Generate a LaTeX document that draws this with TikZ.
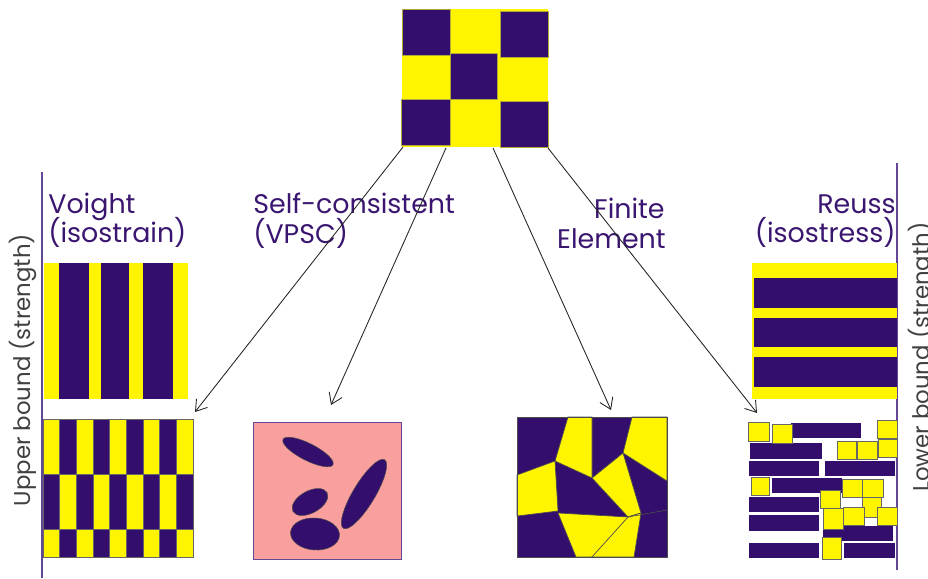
\documentclass[tikz,border=0pt]{standalone}
\usepackage{fontspec}
\setsansfont{Poppins}
\usetikzlibrary{arrows.meta}

\definecolor{phasedark}{RGB}{52,14,108}
\definecolor{phaselight}{RGB}{255,245,0}
\definecolor{matrixpink}{RGB}{249,160,158}
\definecolor{labelpurple}{RGB}{58,22,112}
\definecolor{boundline}{RGB}{100,70,150}

\tikzset{
  modeltext/.style={font=\sffamily\fontsize{15.3}{16.7}\selectfont, text=labelpurple, inner sep=0pt},
  boundtext/.style={font=\sffamily\fontsize{13}{14}\selectfont, text=black!75, inner sep=0pt},
  cellline/.style={draw=black!60, line width=0.3pt},
  grainline/.style={draw=black!70, line width=0.4pt},
  mapping/.style={-{Straight Barb[length=6pt,width=8pt]}, draw=black!85, line width=0.5pt},
}

\begin{document}
\begin{tikzpicture}[x=0.02cm, y=-0.02cm]
\useasboundingbox (0,0) rectangle (928,578);

% Drawing the two-phase checkerboard
\fill[phaselight] (402,9) rectangle (548,147);
\draw[fill=phasedark, draw=olive!70, line width=0.3pt] (402,9) rectangle (450,55);
\draw[fill=phasedark, draw=olive!70, line width=0.3pt] (500,11) rectangle (548,57);
\draw[fill=phasedark, draw=olive!70, line width=0.3pt] (450,53) rectangle (497,99);
\draw[fill=phasedark, draw=olive!70, line width=0.3pt] (401,99) rectangle (450,145);
\draw[fill=phasedark, draw=olive!70, line width=0.3pt] (500,101) rectangle (548,147);

% Marking arrow ends
\coordinate (mix1) at (403,147);
\coordinate (mix2) at (446,148);
\coordinate (mix3) at (493,148);
\coordinate (mix4) at (548,148);
\coordinate (voight) at (195,412);
\coordinate (vpsc) at (331,405);
\coordinate (fem) at (611,410);
\coordinate (reuss) at (757,413);

% Drawing the bounds
\draw[boundline, line width=0.6pt] (42,172) -- (42,578);
\draw[boundline, line width=0.6pt] (897,163) -- (897,570);
\node[boundtext, rotate=90, anchor=base] (upper) at (31,370) {Upper bound (strength)};
\node[boundtext, rotate=90, anchor=base] (lower) at (929,357) {Lower bound (strength)};

% Model names
\node[modeltext, anchor=base west] (voightname) at (48,213) {Voight};
\node[modeltext, anchor=base west] (voightsub) at (48,242) {(isostrain)};
\node[modeltext, anchor=base west] (scname) at (253,213) {Self-consistent};
\node[modeltext, anchor=base west] (scsub) at (253,243) {(VPSC)};
\node[modeltext, anchor=base east] (fename) at (665,218) {Finite};
\node[modeltext, anchor=base east] (fesub) at (666,248) {Element};
\node[modeltext, anchor=base east] (reussname) at (896,213) {Reuss};
\node[modeltext, anchor=base east] (reusssub) at (896,242) {(isostress)};

% Voight: vertical layers
\fill[phaselight] (44,263) rectangle (188,399);
\fill[phasedark] (59,263) rectangle (89,399);
\fill[phasedark] (101,263) rectangle (129,399);
\fill[phasedark] (143,263) rectangle (173,399);

% Voight: equal strain grains
\foreach \ya/\yb/\s in {419/474/0, 474/529/1, 529/557/0}
  \foreach \c in {0,...,8} {
    \pgfmathtruncatemacro{\odd}{mod(\c+\s,2)}
    \ifnum\odd=0 \def\cellcol{phaselight}\else\def\cellcol{phasedark}\fi
    \draw[cellline, fill=\cellcol] ({43+16.667*\c},\ya) rectangle ({59.667+16.667*\c},\yb);
  }
\draw[cellline] (43,419) rectangle (193,557);

% Self-consistent: inclusions in a matrix
\draw[fill=matrixpink, draw=boundline, line width=0.5pt] (253,422) rectangle (401,559);
\draw[fill=phasedark, draw=black!70, line width=0.3pt, rotate around={-27:(308,452)}] (308,452) ellipse [x radius=28, y radius=8.5];
\draw[fill=phasedark, draw=black!70, line width=0.3pt, rotate around={29:(310,502)}] (310,502) ellipse [x radius=19.5, y radius=11];
\draw[fill=phasedark, draw=black!70, line width=0.3pt, rotate around={-4:(315,534)}] (315,534) ellipse [x radius=24.5, y radius=16];
\draw[fill=phasedark, draw=black!70, line width=0.3pt, rotate around={59:(364,494)}] (364,494) ellipse [x radius=40, y radius=11];

% Finite element mesh
\fill[phasedark] (517,417) rectangle (667,557);
\draw[grainline, fill=phaselight] (568,417) -- (592,417) -- (592,478) -- (555,461) -- cycle;
\draw[grainline, fill=phaselight] (632,417) -- (667,417) -- (667,481) -- (623,453) -- cycle;
\draw[grainline, fill=phaselight] (517,475) -- (555,461) -- (558,511) -- (517,516) -- cycle;
\draw[grainline, fill=phaselight] (592,478) -- (623,453) -- (641,513) -- (628,517) -- cycle;
\draw[grainline, fill=phaselight] (558,513) -- (628,517) -- (641,513) -- (634,557) -- (576,557) -- cycle;
\draw[grainline] (628,517) -- (591,558);
\draw[grainline] (628,517) -- (667,510);
\draw[grainline] (517,417) rectangle (667,557);

% Reuss: horizontal layers
\fill[phaselight] (752,263) rectangle (897,399);
\fill[phasedark] (754,278) rectangle (897,308);
\fill[phasedark] (754,318) rectangle (897,347);
\fill[phasedark] (754,357) rectangle (897,387);

% Reuss: equal stress grains
\foreach \xa/\ya/\xb/\yb in {791/423/861/438, 750/443/822/459, 749/461/819/476,
    825/461/895/476, 772/478/842/493, 749/497/819/512, 749/515/819/531,
    823/526/893/541, 749/543/819/558, 844/543/895/558}
  \fill[phasedark] (\xa,\ya) rectangle (\xb,\yb);
\foreach \xa/\ya/\xb/\yb in {748/422/769/441, 772/424/792/443, 877/420/897/438,
    837/441/856/459, 857/441/877/459, 878/439/897/457, 751/477/769/495,
    842/479/862/497, 862/479/883/497, 820/490/840/508, 862/497/881/517,
    843/507/864/525, 877/507/897/525, 823/508/843/529, 822/537/841/559}
  \draw[cellline, fill=phaselight] (\xa,\ya) rectangle (\xb,\yb);

% Drawing mappings
\draw[mapping] (mix1) -- (voight);
\draw[mapping] (mix2) -- (vpsc);
\draw[mapping] (mix3) -- (fem);
\draw[mapping] (mix4) -- (reuss);
\end{tikzpicture}
\end{document}
